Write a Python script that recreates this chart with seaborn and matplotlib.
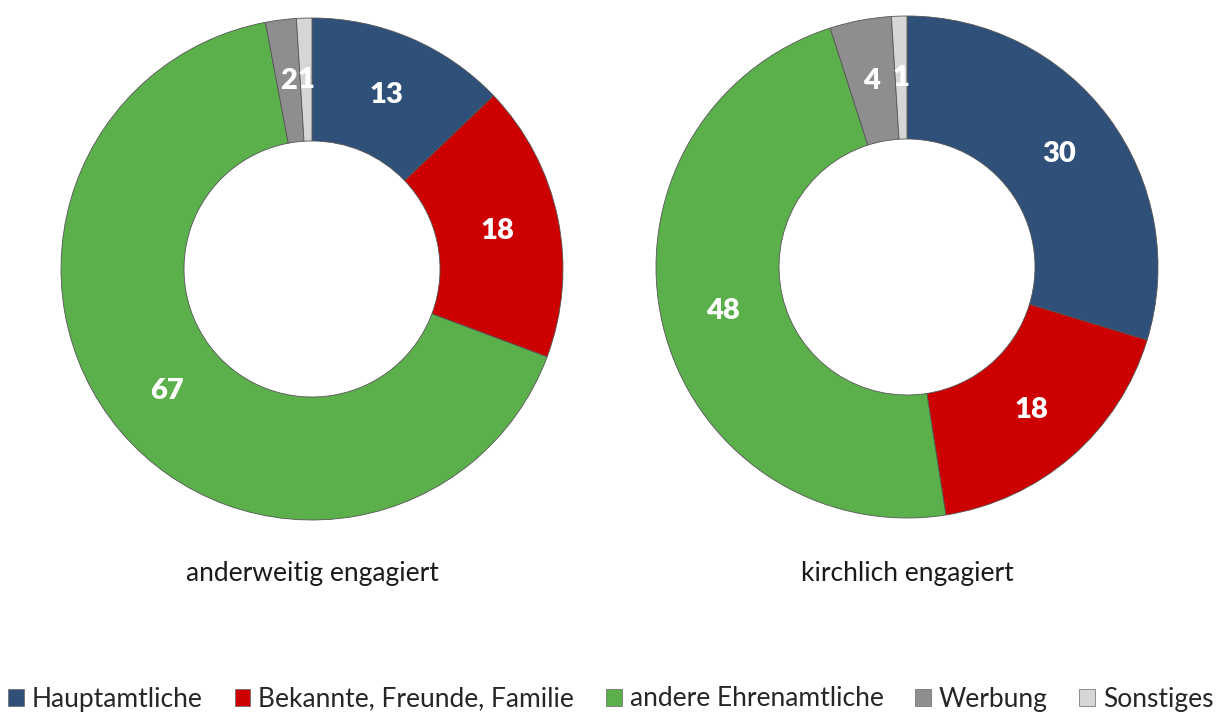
import matplotlib
matplotlib.use("Agg")
import matplotlib.pyplot as plt
import seaborn as sns
import numpy as np
from matplotlib.patches import Patch

categories = ['Hauptamtliche', 'Bekannte, Freunde, Familie', 'andere Ehrenamtliche', 'Werbung', 'Sonstiges']
anderweitig = [13, 18, 67, 2, 1]
kirchlich = [30, 18, 48, 4, 1]
group_labels = ['anderweitig engagiert', 'kirchlich engagiert']

sns.set_theme(style="white")
plt.rcParams['font.family'] = ['Lato', 'DejaVu Sans']

colors = sns.color_palette(['#2F5078', '#CC0000', '#5CB04C', '#8E8E8E', '#D6D6D6'])

fig = plt.figure(figsize=(12.22, 7.14), dpi=100)
W, H = 1222, 714

def draw_donut(values, cx, cy, r_px, label):
    ax = fig.add_axes([(cx - r_px) / W, (H - cy - r_px) / H, 2 * r_px / W, 2 * r_px / H])
    wedges, _ = ax.pie(values, colors=colors, startangle=90, counterclock=False,
                       radius=1.0, wedgeprops=dict(width=0.49, edgecolor='#555555', linewidth=0.6))
    ax.set_xlim(-1, 1)
    ax.set_ylim(-1, 1)
    ax.set_aspect('equal')
    ax.axis('off')
    total = sum(values)
    start = 90.0
    for v in values:
        ang = np.deg2rad(start - v / total * 360 / 2)
        start -= v / total * 360
        ax.text(0.755 * np.cos(ang), 0.755 * np.sin(ang), str(v), ha='center', va='center',
                color='white', fontsize=21, fontweight='heavy')
    fig.text(cx / W, 1 - 573 / H, label, ha='center', va='center', fontsize=19, color='#1a1a1a')

draw_donut(anderweitig, 312, 269, 251, group_labels[0])
draw_donut(kirchlich, 907, 267, 251, group_labels[1])

handles = [Patch(facecolor=c, edgecolor='#666666', linewidth=0.5) for c in colors]
fig.legend(handles, categories, loc='center', bbox_to_anchor=(0.5, 1 - 699 / H), ncol=5,
           frameon=False, fontsize=19, handlelength=0.6, handleheight=0.6,
           handletextpad=0.3, columnspacing=1.2)

plt.savefig('out.png', dpi=100)
plt.close()
